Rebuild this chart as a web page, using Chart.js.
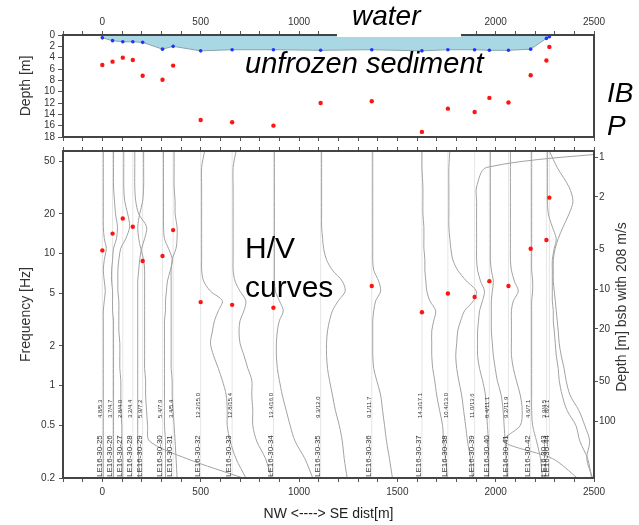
<!DOCTYPE html>
<html lang="en">
<head>
<meta charset="UTF-8">
<title>IBP profile and H/V curves</title>
<script src="https://cdn.jsdelivr.net/npm/chart.js"></script>
<style>
  body { margin: 0; background: #fff; }
  #wrap { position: relative; width: 639px; height: 525px; }
  canvas { position: absolute; left: 0; }
  #topChart { top: 0; }
  #hvChart { top: 137px; }
</style>
</head>
<body>
<div id="wrap">
  <canvas id="topChart" width="639" height="150"></canvas>
  <canvas id="hvChart" width="639" height="388"></canvas>
</div>
<script>
// stations along the NW -> SE profile
const stations = ['LE16-30-25', 'LE16-30-26', 'LE16-30-27', 'LE16-30-28', 'LE16-30-29', 'LE16-30-30', 'LE16-30-31',
  'LE16-30-32', 'LE16-30-33', 'LE16-30-34', 'LE16-30-35', 'LE16-30-36', 'LE16-30-37', 'LE16-30-38', 'LE16-30-39',
  'LE16-30-40', 'LE16-30-41', 'LE16-30-42', 'LE16-30-43', 'LE16-30-44'];
const distance = [0, 52, 104, 155, 205, 306, 360, 500, 660, 870, 1110, 1370, 1625, 1757, 1893, 1968, 2065, 2178, 2258, 2273];
const sedimentThickness = [4.8, 3.7, 2.8, 3.2, 5.9, 5.4, 3.4, 12.2, 12.8, 13.4, 9.3, 9.1, 14.3, 10.4, 11.0, 8.4, 9.2, 4.6, 3.9, 1.8];
const ibpDepth = [5.3, 4.7, 4.0, 4.4, 7.2, 7.9, 5.4, 15.0, 15.4, 16.0, 12.0, 11.7, 17.1, 13.0, 13.6, 11.1, 11.9, 7.1, 4.5, 2.1];
const waterDepth = [0.5, 1.0, 1.2, 1.2, 1.3, 2.5, 2.0, 2.8, 2.6, 2.6, 2.7, 2.6, 2.8, 2.6, 2.6, 2.7, 2.7, 2.5, 0.6, 0.3];
const shoreline = [-12, 2282];

// H/V peak frequency (Hz), null where no dot is visible
const peakFreq = [10.6, 14.2, 18.5, 16.0, 8.8, 9.6, 15.1, 4.3, 4.1, 3.9, null, 5.7, 3.6, 5.0, 4.7, 6.2, 5.7, 10.9, 12.7, 26.6];

// H/V curves: horizontal offset (m) from the station, sampled at hvFreq
const hvFreq = [60, 45, 32, 25, 20, 16, 13, 11, 9, 7.5, 6.2, 5.2, 4.4, 3.7, 3.1, 2.6, 2.1, 1.7, 1.35, 1.1, 0.85, 0.65, 0.5, 0.38, 0.28, 0.2];
const hvOffset = [
  [5, 5, 5, 5, 5, 5, 10, 20, 10, 5, 10, 15, 10, 5, 5, 5, 5, 5, 5, 5, 5, 5, 5, 5, 5, 5],
  [5, 5, 5, 10, 15, 25, 20, 5, 0, -5, -5, 0, 0, 0, 5, 5, 5, 5, 5, 5, 5, 5, 5, 5, 5, 5],
  [5, 5, 5, 10, 25, 35, 15, -10, -20, -25, -25, -25, -20, -20, -20, -20, -15, -15, -15, -10, -10, -10, -5, -5, 0, 0],
  [10, 10, 10, 15, 30, 70, 60, 45, 35, 30, 25, 25, 25, 25, 25, 25, 25, 25, 25, 25, 25, 25, 25, 25, 30, 30],
  [5, 5, 5, 0, -15, -25, -20, -10, 5, 10, 10, 10, 10, 10, 10, 10, 10, 10, 10, 15, 15, 20, 25, 35, 225, 510],
  [5, 5, 5, 5, 5, 5, 10, 30, 50, 40, 25, 20, 15, 15, 10, 10, 10, 10, 10, 10, 10, 10, 10, 15, 15, 15],
  [5, 5, 5, 10, 10, 20, 20, 15, -5, -10, -10, -10, -10, -10, -10, -10, -10, -10, -10, -5, -5, 0, 5, 10, 15, 20],
  [20, 5, 5, 5, 5, 5, 5, 5, 5, 5, 15, 50, 110, 90, 70, 60, 50, 65, 90, 110, 130, 135, 135, 150, 180, 230],
  [20, 5, 5, 5, 5, 5, 5, 5, 5, 5, 15, 40, 70, 60, 40, 35, 40, 60, 80, 100, 100, 105, 105, 125, 170, 200],
  [5, 5, 5, 5, 5, 5, 5, 5, 5, 5, 5, 10, 30, 50, 30, 20, 15, 15, 20, 30, 45, 65, 85, 110, 160, 200],
  [5, 5, 5, 5, 5, 5, 10, 15, 30, 60, 110, 125, 90, 60, 45, 35, 30, 30, 35, 45, 60, 75, 95, 110, 120, 135],
  [5, 5, 5, 5, 5, 5, 5, 5, 5, 10, 35, 45, 20, 10, 5, 5, 5, 5, 10, 25, 45, 55, 65, 75, 90, 105],
  [0, 0, 5, 5, 5, 10, 10, 10, 15, 15, 20, 25, 40, 70, 60, 50, 50, 50, 55, 65, 75, 90, 105, 110, 120, 130],
  [10, 5, 5, 5, 5, 5, 10, 15, 25, 50, 95, 145, 130, 85, 65, 50, 45, 40, 45, 55, 70, 80, 90, 100, 115, 125],
  [800, 60, 10, 10, 10, 10, 10, 10, 10, 15, 30, 50, 40, 25, 20, 15, 15, 15, 25, 40, 55, 60, 65, 70, 70, 70],
  [5, 5, 5, 5, 5, 5, 5, 5, 5, 10, 20, 15, 10, 10, 10, 10, 15, 20, 30, 40, 60, 70, 75, 80, 85, 90],
  [10, 10, 10, 10, 10, 10, 10, 10, 10, 15, 30, 50, 25, 15, 15, 15, 15, 15, 25, 40, 60, 70, 60, -25, 225, 350],
  [5, 5, 5, 5, 5, 5, 5, 5, 5, 5, 10, 10, 5, 5, 5, 5, 5, 5, 5, 5, 5, 5, 10, 30, 50, 60],
  [5, 5, 5, 5, 10, 30, 50, 40, 30, 30, 30, 30, 30, 35, 35, 40, 45, 50, 60, 65, 80, 105, 150, 170, 210, 230],
  [0, 40, 100, 120, 100, 70, 45, 30, 20, 20, 20, 25, 30, 35, 40, 45, 50, 60, 75, 85, 105, 150, 180, 205, 190, 220]
];

const freqTicks = [0.2, 0.5, 1, 2, 5, 10, 20, 50];
const depthTicks = [1, 2, 5, 10, 20, 50, 100];
const depthFactor = 54;   // depth = factor / frequency on the right axis

const fontFamily = '"Liberation Sans", Arial, sans-serif';
const tickFont = { family: fontFamily, size: 10 };
const tickColor = '#333';

function drawFrame(chart) {
  const { ctx, chartArea: a } = chart;
  ctx.save();
  ctx.strokeStyle = '#444';
  ctx.lineWidth = 2;
  ctx.strokeRect(a.left, a.top, a.right - a.left, a.bottom - a.top);
  ctx.restore();
}

// ---------- top panel: water depth and IBP depth ----------
let waterLine = [{ x: shoreline[0], y: 0 }];
distance.forEach((d, i) => waterLine.push({ x: d, y: waterDepth[i] }));
waterLine.push({ x: shoreline[1], y: 0 });

const topDecor = {
  id: 'topDecor',
  afterDraw(chart) {
    const ctx = chart.ctx;
    drawFrame(chart);
    ctx.save();
    ctx.fillStyle = '#fff';
    ctx.fillRect(337, 0, 124, 37);
    ctx.fillStyle = '#000';
    ctx.font = 'italic 28px ' + fontFamily;
    ctx.fillText('water', 352, 25);
    ctx.fillText('IB', 607, 102);
    ctx.fillText('P', 607, 135);
    ctx.font = 'italic 29px ' + fontFamily;
    ctx.fillText('unfrozen sediment', 245, 73);
    ctx.restore();
  }
};

new Chart(document.getElementById('topChart'), {
  type: 'scatter',
  data: {
    datasets: [
      {
        data: distance.map((d, i) => ({ x: d, y: ibpDepth[i] })),
        backgroundColor: '#ff1414', pointRadius: 2.2, borderWidth: 0
      },
      {
        data: distance.map((d, i) => ({ x: d, y: waterDepth[i] })),
        backgroundColor: '#2233ff', pointRadius: 1.8, borderWidth: 0
      },
      {
        data: waterLine, showLine: true, fill: { value: 0 },
        backgroundColor: '#a9d8e4', borderColor: '#8aa3aa', borderWidth: 1, pointRadius: 0
      }
    ]
  },
  options: {
    responsive: false, animation: false, devicePixelRatio: 1,
    layout: { padding: { right: 45 } },
    plugins: { legend: { display: false }, tooltip: { enabled: false } },
    scales: {
      x: {
        type: 'linear', position: 'top', min: -200, max: 2500,
        ticks: { stepSize: 100, autoSkip: false, maxRotation: 0, padding: 3, font: tickFont, color: tickColor,
          callback: v => (v >= 0 && v % 500 === 0) ? String(v) : '' },
        grid: { drawOnChartArea: false, tickLength: 4, color: '#555' },
        border: { display: false },
        afterFit: s => { s.height = 35; }
      },
      xb: {
        type: 'linear', position: 'bottom', min: -200, max: 2500,
        ticks: { stepSize: 100, autoSkip: false, display: false },
        grid: { drawOnChartArea: false, tickLength: 4, color: '#555' },
        border: { display: false },
        afterFit: s => { s.height = 13; }
      },
      y: {
        type: 'linear', reverse: true, min: 0, max: 18,
        ticks: { stepSize: 2, autoSkip: false, padding: 3, font: tickFont, color: tickColor },
        grid: { drawOnChartArea: false, tickLength: 5, color: '#555' },
        border: { display: false },
        title: { display: true, text: 'Depth [m]', color: '#333', font: { family: fontFamily, size: 14 }, padding: { top: 18 } },
        afterFit: s => { s.width = 63; }
      }
    }
  },
  plugins: [topDecor]
});

// ---------- bottom panel: H/V curves ----------
const hvDecor = {
  id: 'hvDecor',
  afterDraw(chart) {
    const ctx = chart.ctx;
    const xs = chart.scales.x;
    const bottom = chart.chartArea.bottom;
    drawFrame(chart);
    ctx.save();
    ctx.fillStyle = '#333';
    distance.forEach((d, i) => {
      const px = xs.getPixelForValue(d);
      ctx.save();
      ctx.translate(px + 1, bottom);
      ctx.rotate(-Math.PI / 2);
      ctx.textBaseline = 'bottom';
      ctx.font = '8px ' + fontFamily;
      ctx.fillText(stations[i], 1, 0);
      ctx.font = '6px ' + fontFamily;
      ctx.fillText(sedimentThickness[i].toFixed(1) + '/' + ibpDepth[i].toFixed(1), 60, 0);
      ctx.restore();
    });
    ctx.fillStyle = '#000';
    ctx.font = '30px ' + fontFamily;
    ctx.fillText('H/V', 245, 121);
    ctx.fillText('curves', 245, 160);
    ctx.fillStyle = '#333';
    ctx.font = '14px ' + fontFamily;
    ctx.translate(622, 170);
    ctx.rotate(-Math.PI / 2);
    ctx.textAlign = 'center';
    ctx.textBaseline = 'middle';
    ctx.fillText('Depth [m] bsb with 208 m/s', 0, 0);
    ctx.restore();
  }
};

const peakDots = [];
distance.forEach((d, i) => { if (peakFreq[i] !== null) peakDots.push({ x: d, y: peakFreq[i] }); });

const hvCurves = hvOffset.map((offs, i) => ({
  data: hvFreq.map((f, k) => ({ x: distance[i] + offs[k], y: f })),
  showLine: true, borderColor: '#a2a2a2', borderWidth: 1, pointRadius: 0, tension: 0.3
}));

const stationLines = distance.map(d => ({
  data: [{ x: d, y: 0.2 }, { x: d, y: 60 }],
  showLine: true, borderColor: '#e6e6e6', borderWidth: 1, pointRadius: 0
}));

new Chart(document.getElementById('hvChart'), {
  type: 'scatter',
  data: {
    datasets: [
      { data: peakDots, backgroundColor: '#ff1414', pointRadius: 2.2, borderWidth: 0 },
      ...hvCurves,
      ...stationLines
    ]
  },
  options: {
    responsive: false, animation: false, devicePixelRatio: 1,
    plugins: { legend: { display: false }, tooltip: { enabled: false } },
    scales: {
      x: {
        type: 'linear', position: 'bottom', min: -200, max: 2500,
        ticks: { stepSize: 100, autoSkip: false, maxRotation: 0, padding: 4, font: tickFont, color: tickColor,
          callback: v => (v >= 0 && v % 500 === 0) ? String(v) : '' },
        grid: { drawOnChartArea: false, tickLength: 4, color: '#555' },
        border: { display: false },
        title: { display: true, text: 'NW <----> SE dist[m]', color: '#222', font: { family: fontFamily, size: 14 }, padding: { top: 0, bottom: 2 } },
        afterFit: s => { s.height = 47; }
      },
      xt: {
        type: 'linear', position: 'top', min: -200, max: 2500,
        ticks: { stepSize: 100, autoSkip: false, display: false },
        grid: { drawOnChartArea: false, tickLength: 4, color: '#555' },
        border: { display: false },
        afterFit: s => { s.height = 14; }
      },
      y: {
        type: 'logarithmic', position: 'left', min: 0.2, max: 60,
        afterBuildTicks: s => { s.ticks = freqTicks.map(v => ({ value: v })); },
        ticks: { autoSkip: false, padding: 4, font: tickFont, color: tickColor, callback: v => String(v) },
        grid: { drawOnChartArea: false, tickLength: 4, color: '#555' },
        border: { display: false },
        title: { display: true, text: 'Frequency [Hz]', color: '#333', font: { family: fontFamily, size: 14 }, padding: { top: 18 } },
        afterFit: s => { s.width = 63; }
      },
      yd: {
        type: 'logarithmic', position: 'right', reverse: true,
        min: depthFactor / 60, max: depthFactor / 0.2,
        afterBuildTicks: s => { s.ticks = depthTicks.map(v => ({ value: v })); },
        ticks: { autoSkip: false, padding: 1, font: tickFont, color: tickColor, callback: v => String(v) },
        grid: { drawOnChartArea: false, tickLength: 4, color: '#555' },
        border: { display: false },
        afterFit: s => { s.width = 45; }
      }
    }
  },
  plugins: [hvDecor]
});
</script>
</body>
</html>
